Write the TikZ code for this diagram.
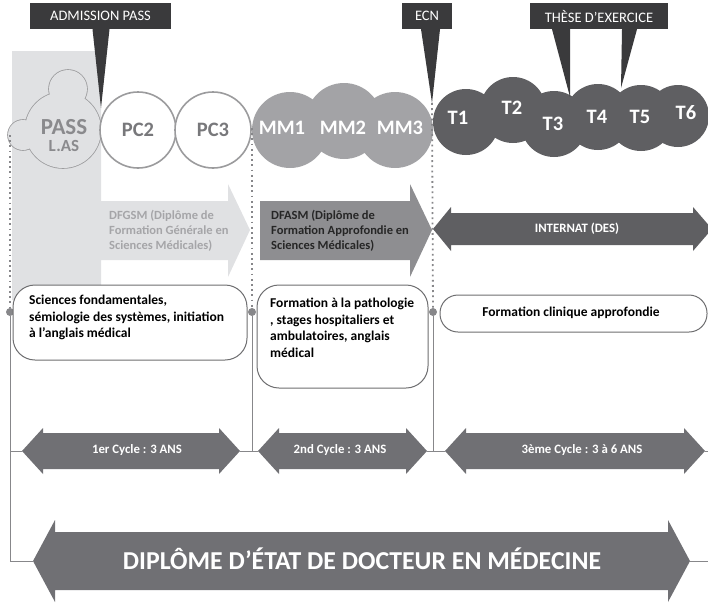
\documentclass[tikz,border=0pt]{standalone}
\usepackage{fontspec}
\setmainfont{Carlito}
\usetikzlibrary{positioning}

\definecolor{bgpass}{RGB}{224,225,227}
\definecolor{ringgray}{RGB}{155,155,157}
\definecolor{pcgray}{RGB}{120,120,123}
\definecolor{passgray}{RGB}{138,138,141}
\definecolor{mmgray}{RGB}{163,163,166}
\definecolor{tgray}{RGB}{95,95,98}
\definecolor{callgray}{RGB}{58,58,60}
\definecolor{dfasmgray}{RGB}{142,142,145}
\definecolor{dfgsmtext}{RGB}{165,165,168}
\definecolor{cyclegray}{RGB}{112,112,116}
\definecolor{linegray}{RGB}{135,135,138}
\definecolor{boxline}{RGB}{110,110,112}

\tikzset{
  ring/.style={draw=ringgray, line width=1.6pt},
  yearlabel/.style={font=\bfseries\fontsize{20.5}{20.5}\selectfont, inner sep=0pt},
  callout/.style={fill=callgray, text=white, minimum height=26pt, inner sep=0pt,
    font=\fontsize{14.5}{14.5}\selectfont},
  infobox/.style={draw=boxline, line width=1pt, fill=white, rounded corners=22pt},
  infotext/.style={font=\bfseries\fontsize{13.5}{16.5}\selectfont, align=left,
    inner sep=0pt, anchor=north west},
  banner/.style={font=\bfseries\fontsize{12.5}{15}\selectfont, align=left,
    inner sep=0pt, anchor=north west},
  guide/.style={draw=linegray, line width=1.8pt, dash pattern=on 1.8pt off 3.4pt},
  rail/.style={draw=linegray, line width=1pt},
  junction/.style={circle, fill=linegray, minimum size=8pt, inner sep=0pt},
  cycletext/.style={text=white, inner sep=0pt, font=\bfseries\fontsize{12.8}{12.8}\selectfont},
}

\begin{document}
\begin{tikzpicture}[x=1pt, y=-1pt]
  \useasboundingbox (0,0) rectangle (708,602);

  % PASS background and DFGSM arrow
  \fill[bgpass] (12,51) -- (101,51) -- (101,201) -- (228,201) -- (228,184) -- (250,230)
    -- (228,277) -- (228,260) -- (101,260) -- (101,300) -- (12,300) -- cycle;
  % DFASM arrow
  \fill[dfasmgray] (260,201) -- (410,201) -- (410,184) -- (432,230) -- (410,277)
    -- (410,260) -- (260,260) -- cycle;
  % INTERNAT double arrow
  \fill[tgray] (433,229) -- (451,207) -- (451,213) -- (693,213) -- (693,207) -- (712,229)
    -- (693,251) -- (693,245) -- (451,245) -- (451,251) -- cycle;

  % PASS cloud
  \draw[ring] (63,130) circle (38pt) (68,89) circle (19pt) (23,135) circle (15pt);
  \fill[bgpass] (63,130) circle (38pt) (68,89) circle (19pt) (23,135) circle (15pt);
  \node[yearlabel, text=passgray, font=\bfseries\fontsize{23}{23}\selectfont] (pass) at (64,127) {PASS};
  \node[yearlabel, text=passgray, font=\bfseries\fontsize{17}{17}\selectfont] (las) at (64,146) {L.AS};

  % PC circles
  \node[circle, ring, fill=white, minimum size=76pt, yearlabel, text=pcgray] (pc2) at (138,130) {PC2};
  \node[circle, ring, fill=white, minimum size=76pt, yearlabel, text=pcgray] (pc3) at (213,130) {PC3};

  % MM circles
  \fill[mmgray] (290,130) circle (38pt) (344,121) circle (38pt) (395,130) circle (38pt);
  \foreach \n/\x in {MM1/282, MM2/343, MM3/400}
    \node[yearlabel, text=white] (\n) at (\x,128) {\n};

  % T circles
  \foreach \x/\y/\r in {466/122/33pt, 513/110/33pt, 554/124/33pt, 598/117/33pt, 641/118/33pt, 678/116/31pt}
    \fill[tgray] (\x,\y) circle (\r);
  \foreach \n/\x/\y in {T1/458/118, T2/512/108, T3/553/124, T4/597/117, T5/640/117, T6/686/113}
    \node[yearlabel, text=white] (\n) at (\x,\y) {\n};

  % callouts
  \node[callout, minimum width=141pt] (admission) at (100.5,16) {ADMISSION PASS};
  \node[callout, minimum width=50pt] (ecn) at (427,16) {ECN};
  \node[callout, minimum width=138pt] (these) at (599,16) {THÈSE D'EXERCICE};
  \coordinate (admission tip) at (101,108);
  \coordinate (ecn tip) at (432,103);
  \coordinate (these tip a) at (570,97);
  \coordinate (these tip b) at (621,88);
  \fill[callgray] ([xshift=-8pt]admission.south) -- ([xshift=9pt]admission.south) -- (admission tip) -- cycle;
  \fill[callgray] ([xshift=-6pt]ecn.south) -- ([xshift=13pt]ecn.south) -- (ecn tip) -- cycle;
  \fill[callgray] ([xshift=-47pt]these.south) -- ([xshift=-29pt]these.south) -- (these tip a) -- cycle;
  \fill[callgray] ([xshift=23pt]these.south) -- ([xshift=38pt]these.south) -- (these tip b) -- cycle;

  % cycle arrows
  \foreach \a/\b/\c/\n/\t in {22/240/137/cycle1/1er Cycle : 3 ANS,
      258/427/340/cycle2/2nd Cycle : 3 ANS, 445/705/582/cycle3/3ème Cycle : 3 à 6 ANS} {
    \fill[cyclegray] (\a,451) -- (\a+21,428) -- (\a+21,433) -- (\b-21,433) -- (\b-21,428)
      -- (\b,451) -- (\b-21,474) -- (\b-21,469) -- (\a+21,469) -- (\a+21,474) -- cycle;
    \coordinate (\n-w) at (\a,451);
    \coordinate (\n-e) at (\b,451);
    \node[cycletext] (\n) at (\c,450) {\t};
  }

  % diploma arrow
  \fill[cyclegray] (33,561) -- (55,520) -- (55,532) -- (668,532) -- (668,520) -- (690,561)
    -- (668,602) -- (668,590) -- (55,590) -- (55,602) -- cycle;
  \coordinate (big-w) at (33,561);
  \coordinate (big-e) at (690,561);
  \node[text=white, inner sep=0pt, font=\bfseries\fontsize{25.8}{25.8}\selectfont] (diplome) at (362,559)
    {DIPLÔME D'ÉTAT DE DOCTEUR EN MÉDECINE};

  % time lines
  \node[junction] (j1) at (10,312) {};
  \node[junction] (j2) at (252,312) {};
  \node[junction] (j3) at (433,312) {};
  \coordinate (g1) at (10,135);
  \coordinate (g2) at (252,128);
  \draw[guide] (g1) -- (j1);
  \draw[guide] (g2) -- (j2);
  \draw[guide] (ecn tip) -- (j3);
  \draw[rail] (j1) |- (big-w);
  \draw[rail] (j1 |- cycle1-w) -- (cycle1-w);
  \draw[rail] (j2) |- (cycle1-e);
  \draw[rail] (j2 |- cycle2-w) -- (cycle2-w);
  \draw[rail] (j3) |- (cycle2-e);
  \draw[rail] (j3 |- cycle3-w) -- (cycle3-w);
  \draw[rail] (cycle3-e) -- ++(8,0);
  \draw[rail] (big-e) -- ++(20,0);

  % boxes
  \draw[infobox] (13,285) rectangle (247,360);
  \draw[infobox] (257,285) rectangle (428,388);
  \draw[infobox, rounded corners=18pt] (440,295) rectangle (707,332);

  % texts
  \node[banner, text=dfgsmtext] (dfgsm) at (109,210)
    {DFGSM (Diplôme de\\Formation Générale en\\Sciences Médicales)};
  \node[banner, text=black!85] (dfasm) at (271,210)
    {DFASM (Diplôme de\\Formation Approfondie en\\Sciences Médicales)};
  \node[cycletext] (internat) at (577,229) {INTERNAT (DES)};
  \node[infotext] (cycle1 text) at (29,295)
    {Sciences fondamentales,\\sémiologie des systèmes, initiation\\à l'anglais médical};
  \node[infotext] (cycle2 text) at (270,298)
    {Formation à la pathologie\\, stages hospitaliers et\\ambulatoires, anglais\\médical};
  \node[inner sep=0pt, font=\bfseries\fontsize{13.5}{13.5}\selectfont] (cycle3 text) at (571,313)
    {Formation clinique approfondie};
\end{tikzpicture}
\end{document}
